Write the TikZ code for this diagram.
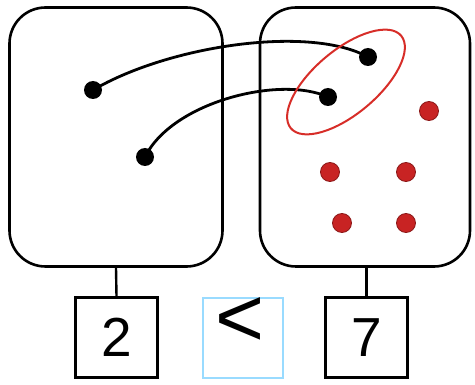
\documentclass[tikz,border=0pt]{standalone}
\usepackage{fontspec}
\setmainfont{Liberation Sans}
\begin{document}
\begin{tikzpicture}[x=1pt,y=-1pt,
  setbox/.style={draw=black,line width=2.6pt,rounded corners=36pt,minimum width=213pt,minimum height=259pt,inner sep=0pt},
  numbox/.style={draw=black,line width=2.6pt,minimum width=82pt,minimum height=80pt,inner sep=0pt,font=\fontsize{55}{55}\selectfont},
  relbox/.style={draw=blue!35!cyan!40,line width=1.4pt,minimum width=80pt,minimum height=80pt,inner sep=0pt},
  bdot/.style={circle,fill=black,inner sep=0pt,minimum size=18pt},
  rdot/.style={circle,fill=dotred,draw=dotred!70!black,line width=0.8pt,inner sep=0pt,minimum size=19pt},
  link/.style={line width=2.8pt,black}]
\definecolor{dotred}{RGB}{200,35,35}
\definecolor{ringred}{RGB}{215,45,40}
\useasboundingbox (0,0) rectangle (475,385);
\node[setbox] (lbox) at (116,137) {};
\node[setbox,minimum width=210pt] (rbox) at (365,137) {};
\node[bdot] (l1) at (93,90) {};
\node[bdot] (l2) at (145,157) {};
\node[bdot] (r1) at (368,57) {};
\node[bdot] (r2) at (328,97) {};
\node[rdot] (d1) at (429,111) {};
\node[rdot] (d2) at (330,172) {};
\node[rdot] (d3) at (406,172) {};
\node[rdot] (d4) at (342,223) {};
\node[rdot] (d5) at (406,223) {};
\draw[link] (l1.center) .. controls (170,45) and (310,25) .. (r1.center);
\draw[link] (l2.center) .. controls (172,102) and (280,75) .. (r2.center);
\draw[ringred,line width=2pt,rotate around={40:(346,82)}] (346,82) ellipse [x radius=72pt,y radius=32pt];
\node[numbox] (b2) at (116.5,337.5) {2};
\node[relbox] (lt) at (243,338) {};
\node[font=\fontsize{84}{84}\selectfont] (ltsym) at (240,322) {<};
\node[numbox] (b7) at (366.5,337.5) {7};
\draw[line width=2.4pt] (lbox.south) -- (b2.north);
\draw[line width=2.4pt] (rbox.south -| b7.north) -- (b7.north);
\end{tikzpicture}
\end{document}
